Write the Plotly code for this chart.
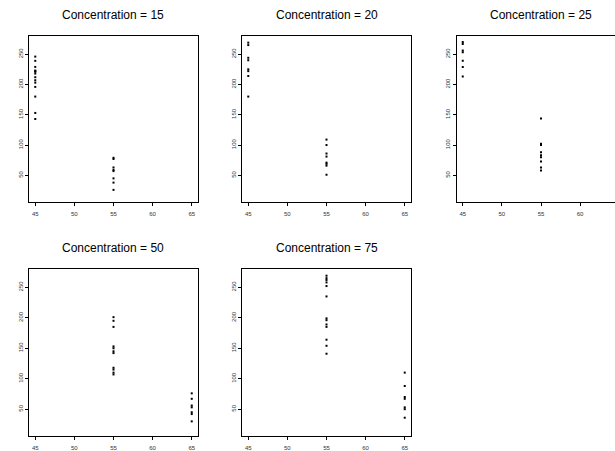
import plotly.graph_objects as go

# ---- data ----
titles = ["Concentration = 15", "Concentration = 20", "Concentration = 25",
          "Concentration = 50", "Concentration = 75"]

c15_x = [45] * 14 + [55] * 8
c15_y = [246, 239, 229, 223, 222, 221, 218, 212, 207, 203, 196, 180, 153, 143,
         79, 77, 63, 59, 57, 45, 38, 26]

c20_x = [45] * 8 + [55] * 8
c20_y = [269, 265, 244, 240, 225, 222, 214, 180,
         109, 100, 86, 81, 71, 69, 66, 51]

c25_x = [45] * 7 + [55] * 9
c25_y = [270, 267, 256, 253, 239, 229, 213,
         144, 102, 100, 88, 83, 80, 73, 63, 58]

c50_x = [55] * 11 + [65] * 7
c50_y = [201, 195, 185, 153, 150, 145, 142, 118, 115, 110, 107,
         76, 67, 56, 53, 45, 42, 30]

c75_x = [55] * 13 + [65] * 7
c75_y = [269, 265, 262, 258, 252, 235, 199, 196, 189, 185, 164, 154, 141,
         110, 88, 70, 67, 53, 50, 36]

x_ticks = [45, 50, 55, 60, 65]
y_ticks = [50, 100, 150, 200, 250]

series = [(c15_x, c15_y), (c20_x, c20_y), (c25_x, c25_y), (c50_x, c50_y), (c75_x, c75_y)]

# ---- layout geometry ----
W, H = 615, 451
cols = [(29, 198), (242, 411), (456.5, 625.5)]
rows = [(36, 202), (269, 436)]
xr = [44.2, 65.8]
yr = [6, 280]

fig = go.Figure()
layout = dict(width=W, height=H, margin=dict(l=0, r=0, t=0, b=0),
              paper_bgcolor="white", plot_bgcolor="white", showlegend=False,
              font=dict(family="Liberation Sans, Arial, sans-serif", color="black"))
annotations = []

positions = [(0, 0), (0, 1), (0, 2), (1, 0), (1, 1)]
for i, ((r, c), (xs, ys), title) in enumerate(zip(positions, series, titles)):
    n = i + 1
    xa = "xaxis" if n == 1 else f"xaxis{n}"
    ya = "yaxis" if n == 1 else f"yaxis{n}"
    x0, x1 = cols[c]
    top, bot = rows[r]
    px_per_unit = (x1 - x0) / (xr[1] - xr[0])
    clipped = x1 > W
    if clipped:
        xmax = xr[0] + (W - x0) / px_per_unit
        dom_x = [x0 / W, 1.0]
    else:
        xmax = xr[1]
        dom_x = [x0 / W, x1 / W]
    dom_y = [(H - bot) / H, (H - top) / H]
    layout[xa] = dict(domain=dom_x, range=[xr[0], xmax], anchor=f"y{n if n > 1 else ''}",
                      showgrid=False, zeroline=False, showline=True, linecolor="black",
                      linewidth=1, mirror=True, ticks="outside", ticklen=3, tickwidth=1,
                      tickcolor="black", tickvals=x_ticks, ticklabelstandoff=3,
                      tickfont=dict(size=6, color="#333333"))
    layout[ya] = dict(domain=dom_y, range=yr, anchor=f"x{n if n > 1 else ''}",
                      showgrid=False, zeroline=False, showline=True, linecolor="black",
                      linewidth=1, mirror=not clipped, ticks="outside", ticklen=3,
                      tickwidth=1, tickcolor="black", tickvals=y_ticks, tickangle=-90,
                      tickfont=dict(size=6, color="#333333"))
    fig.add_trace(go.Scatter(x=xs, y=ys, mode="markers",
                             marker=dict(symbol="square", size=2, color="black",
                                         line=dict(width=0)),
                             xaxis=f"x{n if n > 1 else ''}", yaxis=f"y{n if n > 1 else ''}"))
    annotations.append(dict(text=title, x=(x0 + x1) / 2 / W, y=(H - (top - 21)) / H,
                            xref="paper", yref="paper", showarrow=False,
                            xanchor="center", yanchor="middle",
                            font=dict(size=12, color="black")))

layout["annotations"] = annotations
fig.update_layout(**layout)
fig.write_html(
    "out.html",
    config={"displayModeBar": False},
    post_script="document.body.style.margin='0';document.body.style.padding='0';"
                "document.body.style.overflow='hidden';",
)
